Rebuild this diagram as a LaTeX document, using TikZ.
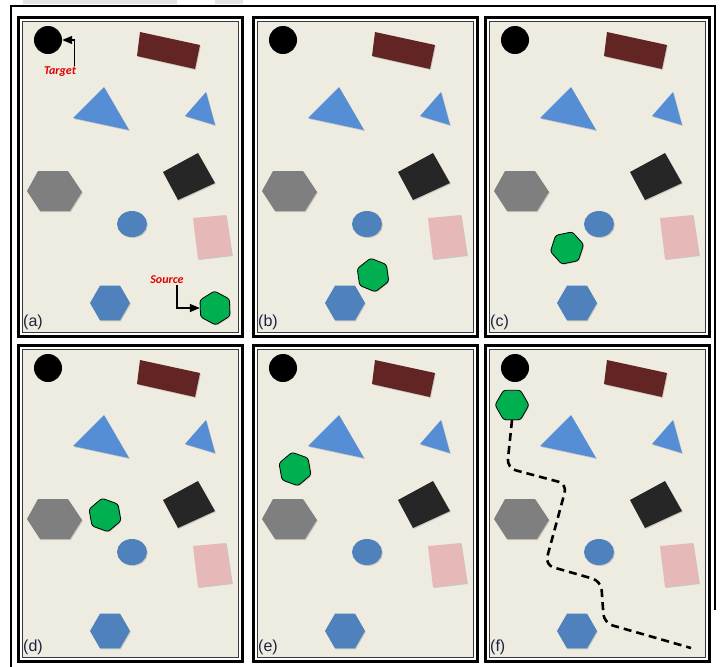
\documentclass[tikz,border=0pt]{standalone}
\usepackage{fontspec}
\usetikzlibrary{arrows.meta,positioning,shapes.geometric,shadows}
\newfontfamily\tagfont{Liberation Sans}
\newfontfamily\notefont{Carlito}
\definecolor{RoomBg}{HTML}{EEECE1}
\definecolor{RoomLine}{HTML}{3A3A3A}
\definecolor{BoxBrown}{HTML}{632523}
\definecolor{TriBlue}{HTML}{558ED5}
\definecolor{HexGray}{HTML}{7F7F7F}
\definecolor{BoxCoal}{HTML}{262626}
\definecolor{BallBlue}{HTML}{4F81BD}
\definecolor{BoxPink}{HTML}{E6B9B8}
\definecolor{RobotGreen}{HTML}{00B050}
\definecolor{NoteRed}{HTML}{E00000}
\definecolor{TagInk}{HTML}{1F2340}
\definecolor{StripGray}{HTML}{E4E4E4}

% obstacles shared by all six rooms; #1 = letter, #2 = room height
\newcommand{\drawroom}[2]{%
  \fill[white] (0,0) rectangle (227,#2);
  \draw[line width=3pt] (1.5,1.5) rectangle (225.5,#2-1.5);
  \draw[fill=RoomBg,draw=RoomLine,line width=1.1pt] (5.5,5.5) rectangle (221.5,#2-5.5);
  \node[circle,fill=black,minimum size=28pt,inner sep=0pt] (target-#1) at (31,24) {};
  \fill[obstacle,BoxBrown] (123,16) -- (183,29) -- (178,53) -- (120,40) -- cycle;
  \fill[obstacle,TriBlue] (56,102) -- (87,71) -- (112,114) -- cycle;
  \fill[obstacle,TriBlue] (168,100) -- (189,76) -- (198,109) -- cycle;
  \fill[obstacle,HexGray] (10,175) -- (21,155) -- (51,155) -- (65,176) -- (53,195) -- (23,195) -- cycle;
  \fill[obstacle,BoxCoal] (146,156) -- (181,137) -- (198,167) -- (161,184) -- cycle;
  \fill[obstacle,BallBlue] (115,208) ellipse [x radius=15,y radius=13];
  \fill[obstacle,BoxPink] (176,202) -- (209,199) -- (215,239) -- (181,243) -- cycle;
  \node[obstacle,regular polygon,regular polygon sides=6,minimum size=40pt,
    inner sep=0pt,fill=BallBlue] (hex-#1) at (93,287) {};
}

\begin{document}
\begin{tikzpicture}[x=1pt,y=-1pt]
  \tikzset{
    obstacle/.style={drop shadow={shadow xshift=0.8pt,shadow yshift=-1pt,opacity=.35}},
    mover/.style={obstacle,regular polygon,regular polygon sides=6,minimum size=34pt,
      inner sep=0pt,fill=RobotGreen,draw=black,line width=0.8pt,rounded corners=2.5pt},
    tag/.style={font=\tagfont\fontsize{16}{18}\selectfont,text=TagInk,anchor=west,inner sep=0pt},
    note/.style={font=\notefont\bfseries\itshape\fontsize{12}{14}\selectfont,text=NoteRed,inner sep=1pt},
    callout/.style={-{Triangle[length=10pt,width=8pt]},line width=1.3pt},
    trail/.style={line width=2.6pt,dash pattern=on 8pt off 5pt,rounded corners=9pt}
  }
  \useasboundingbox (0,0) rectangle (721,667);
  \fill[StripGray] (23,0) rectangle (177,4);
  \fill[StripGray] (215,0) rectangle (243,4);
  \draw[line width=1.5pt] (11,667) -- (11,6) -- (715,6) -- (715,610);

  \foreach \lab/\px/\py/\h/\gx/\gy/\gr in {a/17/16/322/198/292/-28,
      b/252/16/322/121/259/-22, c/484/16/322/83/232/12,
      d/17/344/319/88/171/-20, e/252/344/319/43/125/-20, f/484/344/319/28/61/0}{
    \begin{scope}[shift={(\px,\py)}]
      \drawroom{\lab}{\h}
      \node[mover,shape border rotate=\gr] (mover-\lab) at (\gx,\gy) {};
      \node[tag] (tag-\lab) at (6,\h-16) {(\lab)};
    \end{scope}
  }

  % labels in room (a)
  \begin{scope}[shift={(17,16)}]
    \node[note] (tlab) at (43,56) {Target};
    \node[note] (slab) at (150,264) {Source};
  \end{scope}
  \draw[callout] ([xshift=-3pt]tlab.north east) |- (target-a.east);
  \draw[callout] ([xshift=10pt]slab.south) |- (mover-a.west);

  % path found in room (f)
  \begin{scope}[shift={(484,344)}]
    \coordinate (goal-f) at (207,304);
    \draw[trail] (mover-f.south) -- (23,124) -- (83,140) -- (61,221) -- (117,237)
      -- (120,279) -- (goal-f);
  \end{scope}
\end{tikzpicture}
\end{document}
